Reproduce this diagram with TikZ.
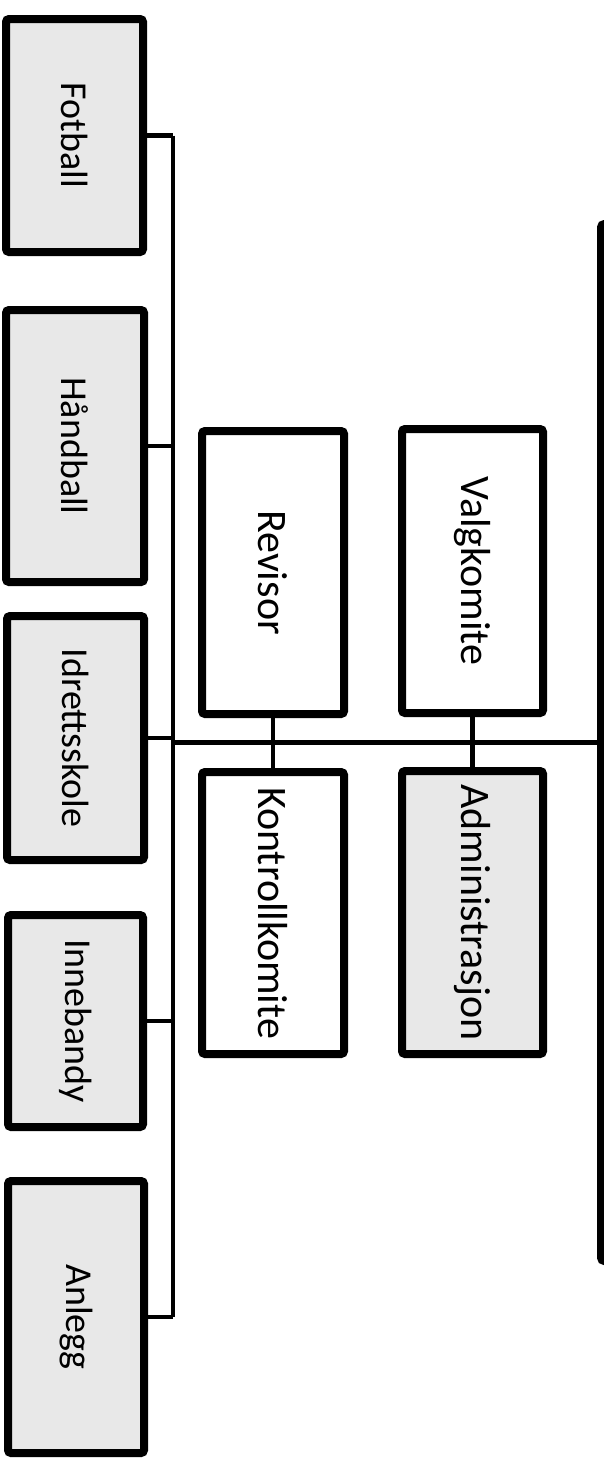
\documentclass[tikz,border=0pt]{standalone}
\usepackage{fontspec}
\setmainfont{Carlito}
\definecolor{boxgray}{RGB}{232,232,232}
\begin{document}
\begin{tikzpicture}[x=1pt,y=-1pt,
  orgbox/.style={draw=black,line width=8pt,rounded corners=3pt,inner sep=0pt,align=center},
  leftbox/.style={orgbox,fill=boxgray,font=\fontsize{38}{40}\selectfont},
  midbox/.style={orgbox,fill=white,font=\fontsize{42}{44}\selectfont},
  graybox/.style={orgbox,fill=boxgray,font=\fontsize{42}{44}\selectfont},
  conn/.style={draw=black,line width=4.5pt}]
\clip (0,0) rectangle (604,1459);
\useasboundingbox (0,0) rectangle (604,1459);
\fill[white] (0,0) rectangle (604,1459);
% left column
\node[leftbox,minimum width=137pt,minimum height=233pt] (fot) at (74.5,135.5) {\rotatebox{-90}{Fotball}};
\node[leftbox,minimum width=138pt,minimum height=272pt] (han) at (75,446) {\rotatebox{-90}{Håndball}};
\node[leftbox,minimum width=137pt,minimum height=244pt] (idr) at (75.5,738) {\rotatebox{-90}{Idrettsskole}};
\node[leftbox,minimum width=135pt,minimum height=212pt] (inn) at (75.5,1021) {\rotatebox{-90}{Innebandy}};
\node[leftbox,minimum width=136pt,minimum height=272pt] (anl) at (76,1317) {\rotatebox{-90}{Anlegg}};
% middle columns
\node[midbox,minimum width=142pt,minimum height=283pt] (rev) at (273,572.5) {\rotatebox{-90}{Revisor}};
\node[midbox,minimum width=141pt,minimum height=284pt] (val) at (472.5,571) {\rotatebox{-90}{Valgkomite}};
\node[midbox,minimum width=142pt,minimum height=282pt] (kon) at (273,913) {\rotatebox{-90}{Kontrollkomite}};
\node[graybox,minimum width=141pt,minimum height=283pt] (adm) at (472.5,912.5) {\rotatebox{-90}{Administrasjon}};
% big box at right (cut off)
\node[draw=black,fill=white,line width=9pt,rounded corners=3pt,inner sep=0pt,minimum width=97pt,minimum height=1036pt] (big) at (650,742.5) {};
% spine
\coordinate (sx) at (173,0);
\draw[conn] (fot.east) -- (fot.east -| sx);
\draw[conn] (han.east) -- (han.east -| sx);
\draw[conn] (idr.east) -- (idr.east -| sx);
\draw[conn] (inn.east) -- (inn.east -| sx);
\draw[conn] (anl.east) -- (anl.east -| sx);
\draw[conn] (fot.east -| sx) -- (anl.east -| sx);
\draw[conn] (big.west -| sx) -- (big.west);
\draw[conn] (rev.south) -- (kon.north);
\draw[conn] (val.south) -- (adm.north);
\end{tikzpicture}
\end{document}
